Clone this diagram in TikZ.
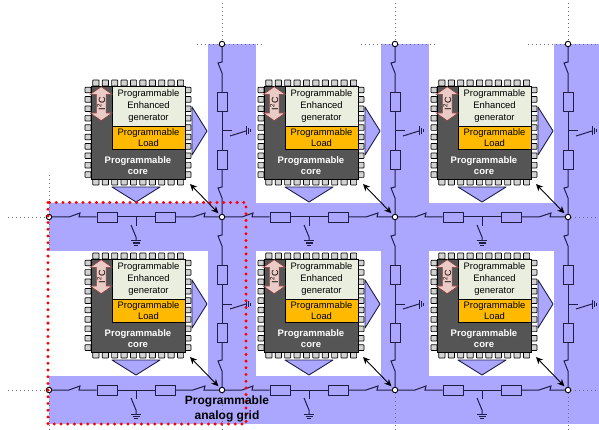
\documentclass[tikz,border=0pt]{standalone}
\usepackage{fontspec}
\setmainfont{Liberation Sans}
\usepackage{xcolor}
\usetikzlibrary{arrows.meta,shapes.arrows}
\definecolor{cBand}{HTML}{ABA7FF}
\definecolor{cWire}{HTML}{1E1E46}
\definecolor{cCore}{HTML}{555555}
\definecolor{cGen}{HTML}{E9EEDF}
\definecolor{cLoad}{HTML}{FFBA00}
\definecolor{cPin}{HTML}{D2D2D2}
\definecolor{cBus}{HTML}{EBCBC6}
\definecolor{cBusEdge}{HTML}{8C3B3B}
\definecolor{cDots}{HTML}{6E6E7A}
\tikzset{
  band/.style={fill=cBand, draw=none},
  wire/.style={draw=cWire, line width=1pt},
  res/.style={draw=cWire, line width=0.9pt, fill=none, inner sep=0pt, minimum width=#1},
  res/.default=20pt,
  junc/.style={circle, draw=black, fill=white, line width=0.9pt, inner sep=0pt, minimum size=5.5pt},
  corebox/.style={draw=black, fill=cCore, line width=0.7pt, inner sep=0pt, minimum width=94pt, minimum height=93pt},
  genbox/.style={draw=black, fill=cGen, line width=0.7pt, align=center, inner sep=0pt, minimum width=73pt, minimum height=40pt, font=\fontsize{9.4}{11.6}\selectfont},
  loadbox/.style={draw=black, fill=cLoad, line width=0.7pt, align=center, inner sep=0pt, minimum width=73pt, minimum height=23pt, font=\fontsize{9.4}{11}\selectfont},
  corelbl/.style={text=white, align=center, inner sep=0pt, font=\bfseries\fontsize{9.5}{11}\selectfont},
  busarrow/.style={double arrow, rotate=90, draw=cBusEdge, fill=cBus, line width=0.6pt, inner sep=0pt,
    minimum height=34pt, minimum width=22pt, double arrow head extend=5.5pt, double arrow tip angle=110, font=\fontsize{9}{9}\selectfont},
  chippin/.style={draw=black, fill=cPin, line width=0.7pt, rounded corners=0.6pt},
  tri/.style={draw=cWire, fill=cBand, line width=0.9pt, line join=round},
  link/.style={{Stealth[length=7pt,width=6.5pt]}-{Stealth[length=7pt,width=6.5pt]}, draw=black, line width=0.9pt, shorten >=2pt},
  dots/.style={draw=cDots, line width=0.9pt, dash pattern=on 1pt off 3pt},
  redframe/.style={draw=red, line width=3.3pt, line cap=round, dash pattern=on 0pt off 6.7pt},
}
\begin{document}
\begin{tikzpicture}[x=1pt,y=-1pt]
  \useasboundingbox (0,0) rectangle (599,430);
  % blue routing channels
  \fill[band] (49,203) rectangle (599,251);
  \fill[band] (49,376) rectangle (599,424);
  \fill[band] (208,44) rectangle (256,424);
  \fill[band] (381,44) rectangle (429,424);
  \fill[band] (554,44) rectangle (599,424);
  % grid junctions
  \foreach \c in {1,2,3} \foreach \r in {0,1,2}
    \node[junc] (j\c\r) at (49+173*\c,44+173*\r) {};
  \foreach \r in {1,2}
    \node[junc] (j0\r) at (49,44+173*\r) {};
  % dotted grid extensions
  \draw[dots] (222,3)--(j10); \draw[dots] (395,3)--(j20); \draw[dots] (568,3)--(j30);
  \draw[dots] (197,44)--(j10)--(262,44);
  \draw[dots] (361,44)--(j20)--(435,44);
  \draw[dots] (528,44)--(j30)--(599,44);
  \draw[dots] (8,217)--(j01); \draw[dots] (8,390)--(j02);
  \draw[dots] (49,175)--(j01);
  \draw[dots] (j01)--(49,251);
  \draw[dots] (j02)--(49,430);
  \draw[dots] (j31)--(599,217); \draw[dots] (j32)--(599,390);
  \draw[dots] (j12)--(222,430); \draw[dots] (j22)--(395,430); \draw[dots] (j32)--(568,430);
  % horizontal links
  \foreach \c/\n in {0/1,1/2,2/3} \foreach \r in {1,2} {
    \begin{scope}[shift={(49+173*\c,44+173*\r)}]
      \node[res, minimum height=10pt] (ha\c\r) at (58,0) {};
      \node[res, minimum height=10pt] (hb\c\r) at (116,0) {};
      \coordinate (hs1) at (20,0); \coordinate (hs2) at (31,-4); \coordinate (hs3) at (30,0);
      \coordinate (hs4) at (144,0); \coordinate (hs5) at (156,-4); \coordinate (hs6) at (155,0);
      \coordinate (ht) at (87,0);
      \draw[wire] (j\c\r)--(hs1)--(hs2)--(hs3)--(ha\c\r);
      \draw[wire] (ha\c\r)--(hb\c\r);
      \draw[wire] (hb\c\r)--(hs4)--(hs5)--(hs6)--(j\n\r);
      \draw[wire] (ht)--(87,9);
      \draw[wire] (82,8)--(87,20)--(87,24);
      \draw[wire] (82,24)--(92,24) (83.5,26)--(90.5,26) (85,28)--(89,28);
    \end{scope}}
  % vertical links
  \foreach \c in {1,2,3} \foreach \r/\n in {0/1,1/2} {
    \begin{scope}[shift={(49+173*\c,44+173*\r)}]
      \node[res=10pt, minimum height=19pt] (va\c\r) at (0,58) {};
      \node[res=10pt, minimum height=19pt] (vb\c\r) at (0,115.5) {};
      \coordinate (vs1) at (0,18); \coordinate (vs2) at (-4,19); \coordinate (vs3) at (0,29);
      \coordinate (vs4) at (0,143); \coordinate (vs5) at (-4,144); \coordinate (vs6) at (0,154);
      \coordinate (vt) at (0,87);
      \draw[wire] (j\c\r)--(vs1)--(vs2)--(vs3)--(va\c\r);
      \draw[wire] (va\c\r)--(vb\c\r);
      \draw[wire] (vb\c\r)--(vs4)--(vs5)--(vs6)--(j\c\n);
      \draw[wire] (vt)--(10,87);
      \draw[wire] (8,92)--(24,87);
      \draw[wire] (24,82.5)--(24,91.5) (26,84)--(26,90) (28,85.5)--(28,88.5);
    \end{scope}}
  % chips
  \foreach \c/\n in {0/1,1/2,2/3} \foreach \r/\s in {0/1,1/2} {
    \begin{scope}[shift={(173*\c,173*\r)}]
      \foreach \p in {0,...,9} {
        \draw[chippin] (92.8+9.4*\p,80) rectangle +(6.2,6);
        \draw[chippin] (92.8+9.4*\p,179) rectangle +(6.2,6);
        \draw[chippin] (85,87.2+9.4*\p) rectangle +(6,5.6);
        \draw[chippin] (185,87.2+9.4*\p) rectangle +(6,5.6);
      }
      \draw[tri] (192,107)--(207,131)--(192,155)--cycle;
      \draw[tri] (112,187)--(160,187)--(136,202)--cycle;
      \node[corebox] (core\c\r) at (138,132.5) {};
      \node[genbox] (gen\c\r) at (148.5,106) {Programmable\\Enhanced\\generator};
      \node[loadbox] (load\c\r) at (148.5,137.5) {Programmable\\Load};
      \node[corelbl] (cl\c\r) at (138,165.5) {Programmable\\core};
      \node[busarrow] (bus\c\r) at (101.2,103.7) {I\textsuperscript{2}C};
      \coordinate (lk\c\r) at (190,184);
      \draw[link] (lk\c\r)--(j\n\s);
    \end{scope}}
  % selected cell
  \draw[redframe] (48,202.5) rectangle (246,424);
  \node[align=center, inner sep=0pt, font=\bfseries\fontsize{12}{14.8}\selectfont] (grid) at (227,409) {Programmable\\analog grid};
\end{tikzpicture}
\end{document}
